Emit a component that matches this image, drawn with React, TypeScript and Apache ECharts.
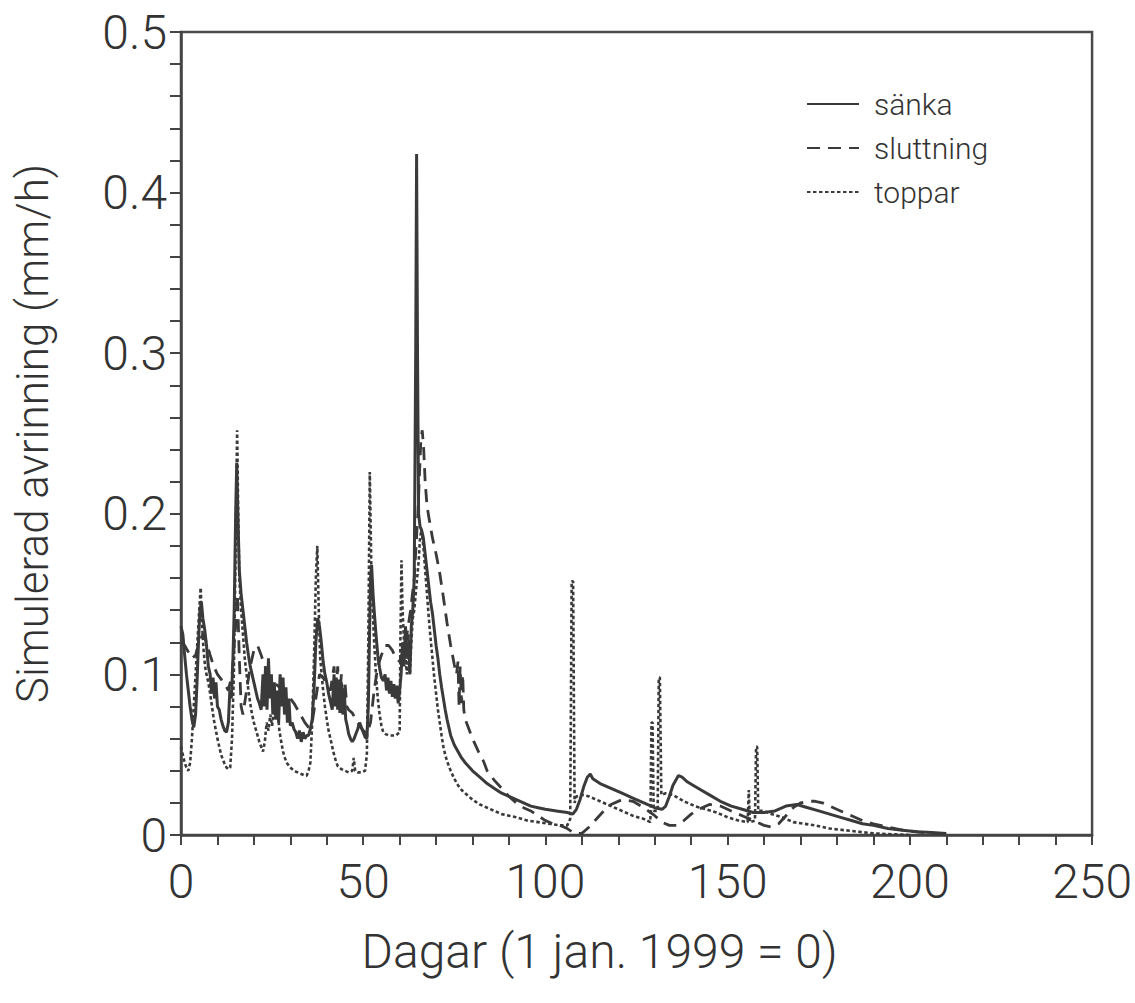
import React, { useEffect, useRef } from "react";
import * as echarts from "echarts";

const seriesNames = ["sänka", "sluttning", "toppar"];
const xAxisTitle = "Dagar (1 jan. 1999 = 0)";
const yAxisTitle = "Simulerad avrinning (mm/h)";

const sankaData: [number, number][] = [
  [0, 0.13], [0.5, 0.125], [1, 0.112], [1.5, 0.1], [2, 0.09], [2.5, 0.08], [3, 0.072], [3.5, 0.067],
  [4, 0.075], [4.4, 0.095], [4.8, 0.12], [5.2, 0.14], [5.6, 0.145], [6, 0.135], [6.5, 0.128], [7, 0.118],
  [7.5, 0.105], [8, 0.1], [8.4, 0.088], [8.8, 0.098], [9.2, 0.085], [9.6, 0.095], [10, 0.08], [10.5, 0.078],
  [11, 0.072], [11.5, 0.068], [12, 0.065], [12.5, 0.064], [13, 0.07], [13.4, 0.09], [13.8, 0.085], [14.2, 0.105],
  [14.6, 0.14], [15, 0.2], [15.3, 0.232], [15.6, 0.2], [16, 0.165], [16.5, 0.15], [17, 0.14], [17.5, 0.13],
  [18, 0.12], [18.5, 0.112], [19, 0.105], [19.5, 0.1], [20, 0.095], [20.5, 0.09], [21, 0.085], [21.5, 0.082],
  [22, 0.078], [22.5, 0.1], [22.8, 0.08], [23.2, 0.105], [23.6, 0.078], [24, 0.11], [24.4, 0.085], [24.8, 0.1],
  [25.2, 0.075], [25.6, 0.095], [26, 0.072], [26.4, 0.09], [26.8, 0.07], [27.2, 0.1], [27.6, 0.08], [28, 0.098],
  [28.4, 0.075], [28.8, 0.092], [29.2, 0.07], [29.6, 0.085], [30, 0.068], [30.5, 0.07], [31, 0.066], [31.5, 0.064],
  [32, 0.06], [32.5, 0.065], [33, 0.058], [33.5, 0.064], [34, 0.06], [34.5, 0.062], [35, 0.062], [35.5, 0.066],
  [36, 0.072], [36.5, 0.09], [37, 0.12], [37.5, 0.135], [38, 0.13], [38.5, 0.12], [39, 0.108], [39.5, 0.1],
  [40, 0.095], [40.5, 0.088], [41, 0.083], [41.5, 0.078], [42, 0.1], [42.3, 0.08], [42.6, 0.098], [43, 0.078],
  [43.3, 0.096], [43.6, 0.076], [44, 0.095], [44.4, 0.075], [44.8, 0.09], [45.2, 0.072], [45.6, 0.068], [46, 0.063],
  [46.5, 0.06], [47, 0.058], [47.5, 0.06], [48, 0.063], [48.5, 0.066], [49, 0.07], [49.5, 0.067], [50, 0.064],
  [50.5, 0.061], [51, 0.06], [51.4, 0.08], [51.7, 0.12], [52, 0.16], [52.3, 0.168], [52.7, 0.15], [53, 0.14],
  [53.5, 0.125], [54, 0.112], [54.5, 0.104], [55, 0.098], [55.5, 0.096], [56, 0.1], [56.4, 0.09], [56.8, 0.098],
  [57.2, 0.088], [57.6, 0.096], [58, 0.086], [58.4, 0.094], [58.8, 0.085], [59.2, 0.093], [59.6, 0.082], [60, 0.09],
  [60.4, 0.1], [60.8, 0.12], [61.2, 0.105], [61.6, 0.13], [62, 0.11], [62.4, 0.12], [62.8, 0.1], [63.2, 0.13],
  [63.6, 0.14], [64, 0.16], [64.4, 0.3], [64.65, 0.424], [64.9, 0.3], [65.2, 0.2], [65.6, 0.192], [66, 0.19],
  [66.5, 0.185], [67, 0.175], [67.5, 0.165], [68, 0.155], [68.5, 0.145], [69, 0.138], [69.5, 0.128], [70, 0.118],
  [70.5, 0.11], [71, 0.1], [71.5, 0.092], [72, 0.085], [72.5, 0.078], [73, 0.072], [73.5, 0.067], [74, 0.062],
  [75, 0.056], [76, 0.052], [77, 0.048], [78, 0.045], [80, 0.04], [82, 0.036], [84, 0.032], [86, 0.029],
  [88, 0.026], [90, 0.024], [92, 0.022], [94, 0.02], [96, 0.018], [98, 0.017], [100, 0.016], [103, 0.015],
  [106, 0.014], [107.5, 0.013], [108.5, 0.016], [109.5, 0.022], [110.5, 0.03], [111.5, 0.036], [112.3, 0.038], [113, 0.035],
  [115, 0.032], [118, 0.029], [121, 0.026], [124, 0.023], [127, 0.02], [130, 0.017], [132, 0.016], [133, 0.018],
  [134, 0.024], [135, 0.031], [136.5, 0.037], [137.5, 0.036], [139, 0.033], [142, 0.029], [145, 0.025], [148, 0.021],
  [151, 0.018], [154, 0.016], [157, 0.014], [160, 0.014], [163, 0.015], [166, 0.018], [169, 0.019], [172, 0.017],
  [175, 0.015], [178, 0.013], [181, 0.011], [184, 0.009], [187, 0.007], [190, 0.006], [194, 0.004], [198, 0.003],
  [202, 0.002], [206, 0.0015], [210, 0.001],
];

const sluttningData: [number, number][] = [
  [0, 0.12], [1, 0.118], [2, 0.114], [3, 0.11], [4, 0.112], [5, 0.12], [6, 0.125], [7, 0.12],
  [8, 0.112], [9, 0.105], [10, 0.1], [11, 0.097], [12, 0.094], [13, 0.09], [14, 0.1], [15, 0.13],
  [15.5, 0.15], [16, 0.11], [16.5, 0.08], [17, 0.075], [18, 0.09], [19, 0.105], [20, 0.115], [21, 0.118],
  [22, 0.112], [23, 0.105], [24, 0.1], [25, 0.097], [26, 0.094], [27, 0.092], [28, 0.09], [29, 0.088],
  [30, 0.085], [31, 0.082], [32, 0.078], [33, 0.074], [34, 0.07], [35, 0.067], [36, 0.07], [37, 0.085],
  [38, 0.1], [39, 0.098], [40, 0.094], [41, 0.09], [42, 0.105], [42.5, 0.085], [43, 0.105], [43.5, 0.082],
  [44, 0.1], [44.5, 0.082], [45, 0.095], [45.5, 0.08], [46, 0.078], [47, 0.076], [48, 0.072], [49, 0.068],
  [50, 0.065], [51, 0.063], [52, 0.07], [53, 0.09], [54, 0.105], [55, 0.112], [56, 0.118], [57, 0.118],
  [58, 0.115], [59, 0.11], [60, 0.108], [61, 0.115], [62, 0.125], [63, 0.14], [64, 0.16], [65, 0.2],
  [65.8, 0.245], [66.2, 0.252], [66.6, 0.24], [67, 0.22], [67.5, 0.205], [68, 0.198], [69, 0.185], [70, 0.175],
  [71, 0.163], [72, 0.148], [73, 0.132], [74, 0.118], [75, 0.106], [75.6, 0.1], [76, 0.108], [76.3, 0.08],
  [76.6, 0.105], [77, 0.082], [77.3, 0.1], [77.6, 0.078], [78, 0.072], [79, 0.066], [80, 0.06], [81, 0.055],
  [82, 0.05], [83, 0.046], [84, 0.04], [85, 0.037], [86, 0.034], [88, 0.029], [90, 0.024], [92, 0.02],
  [94, 0.017], [96, 0.015], [98, 0.012], [100, 0.009], [102, 0.007], [104, 0.006], [106, 0.004], [108, 0.001],
  [110, 0.001], [112, 0.005], [114, 0.01], [116, 0.015], [118, 0.019], [121, 0.022], [124, 0.021], [127, 0.017],
  [130, 0.012], [132, 0.008], [134, 0.006], [136, 0.006], [138, 0.009], [140, 0.013], [142, 0.016], [145, 0.019],
  [148, 0.018], [151, 0.015], [154, 0.012], [157, 0.009], [160, 0.006], [162, 0.005], [164, 0.007], [166, 0.012],
  [168, 0.017], [170, 0.02], [172, 0.021], [174, 0.021], [176, 0.02], [178, 0.018], [181, 0.015], [184, 0.012],
  [187, 0.009], [190, 0.007], [194, 0.005], [198, 0.003], [202, 0.002], [206, 0.001], [210, 0.0005],
];

const topparData: [number, number][] = [
  [0, 0.055], [0.5, 0.05], [1, 0.045], [1.5, 0.042], [2, 0.04], [2.5, 0.045], [3, 0.06], [3.5, 0.08],
  [4, 0.1], [4.5, 0.12], [5, 0.14], [5.4, 0.154], [5.8, 0.13], [6.2, 0.115], [6.6, 0.105], [7, 0.1],
  [7.5, 0.095], [8, 0.088], [8.5, 0.08], [9, 0.072], [9.5, 0.066], [10, 0.06], [10.5, 0.055], [11, 0.05],
  [11.5, 0.047], [12, 0.044], [12.5, 0.042], [13, 0.041], [13.5, 0.042], [14, 0.06], [14.5, 0.1], [15, 0.18],
  [15.4, 0.252], [15.7, 0.2], [16, 0.16], [16.5, 0.14], [17, 0.125], [17.5, 0.11], [18, 0.1], [18.5, 0.09],
  [19, 0.082], [19.5, 0.075], [20, 0.07], [20.5, 0.066], [21, 0.062], [21.5, 0.058], [22, 0.055], [22.5, 0.052],
  [23, 0.058], [23.5, 0.07], [24, 0.065], [24.5, 0.075], [25, 0.068], [25.5, 0.078], [26, 0.072], [26.5, 0.078],
  [27, 0.065], [27.5, 0.058], [28, 0.052], [28.5, 0.048], [29, 0.045], [30, 0.042], [31, 0.04], [32, 0.039],
  [33, 0.038], [34, 0.037], [34.5, 0.037], [35, 0.04], [35.5, 0.045], [36, 0.07], [36.5, 0.11], [37, 0.16],
  [37.4, 0.18], [37.8, 0.14], [38.2, 0.11], [38.6, 0.1], [39, 0.09], [39.5, 0.08], [40, 0.072], [40.5, 0.065],
  [41, 0.06], [41.5, 0.055], [42, 0.05], [42.5, 0.046], [43, 0.043], [44, 0.041], [45, 0.04], [46, 0.039],
  [47, 0.04], [47.4, 0.048], [47.8, 0.04], [48.5, 0.039], [49.5, 0.039], [50.5, 0.04], [51, 0.05], [51.4, 0.12],
  [51.8, 0.226], [52.2, 0.17], [52.6, 0.14], [53, 0.12], [53.5, 0.1], [54, 0.085], [54.5, 0.075], [55, 0.068],
  [55.5, 0.064], [56, 0.063], [57, 0.062], [58, 0.062], [59, 0.062], [60, 0.064], [60.2, 0.12], [60.5, 0.171],
  [60.8, 0.14], [61.2, 0.12], [61.6, 0.11], [62, 0.1], [62.4, 0.125], [62.8, 0.1], [63.2, 0.12], [63.6, 0.135],
  [64, 0.14], [64.4, 0.15], [64.8, 0.16], [65.2, 0.17], [65.6, 0.185], [66, 0.19], [66.5, 0.18], [67, 0.165],
  [67.5, 0.15], [68, 0.135], [68.5, 0.122], [69, 0.11], [69.5, 0.098], [70, 0.088], [70.5, 0.078], [71, 0.07],
  [71.5, 0.062], [72, 0.055], [72.5, 0.05], [73, 0.046], [74, 0.04], [75, 0.035], [76, 0.031], [77, 0.028],
  [78, 0.026], [80, 0.022], [82, 0.019], [84, 0.017], [86, 0.015], [88, 0.013], [90, 0.012], [92, 0.011],
  [95, 0.009], [98, 0.008], [101, 0.007], [104, 0.006], [106, 0.006], [106.8, 0.01], [107.2, 0.158], [107.6, 0.158],
  [108, 0.02], [108.5, 0.024], [110, 0.025], [112, 0.024], [115, 0.021], [118, 0.018], [121, 0.015], [124, 0.012],
  [127, 0.01], [128.8, 0.008], [129.1, 0.07], [129.4, 0.07], [129.7, 0.015], [130.8, 0.015], [131.1, 0.098], [131.4, 0.098],
  [131.8, 0.025], [133, 0.026], [135, 0.025], [138, 0.021], [141, 0.018], [144, 0.016], [147, 0.014], [150, 0.011],
  [153, 0.009], [155.5, 0.008], [155.8, 0.028], [156.1, 0.008], [157.5, 0.009], [157.8, 0.055], [158.1, 0.055], [158.4, 0.015],
  [160, 0.015], [162, 0.013], [165, 0.011], [168, 0.008], [171, 0.007], [174, 0.006], [178, 0.004], [182, 0.003],
  [186, 0.002], [190, 0.001], [195, 0.0005], [200, 0],
];

const FONT = "Roboto, 'Liberation Sans', sans-serif";
const INK = "#3a3a3a";

export default function App() {
  const ref = useRef<HTMLDivElement>(null);
  useEffect(() => {
    if (!ref.current) return;
    const chart = echarts.init(ref.current, null, { renderer: "svg" });
    const lineTypes: any[] = ["solid", [13, 8], [3.5, 2.5]];
    const lineWidths = [3, 2.8, 2.6];
    const datasets = [sankaData, sluttningData, topparData];
    chart.setOption({
      animation: false,
      backgroundColor: "#ffffff",
      grid: {
        left: 181,
        top: 32,
        right: 38,
        bottom: 168,
        show: true,
        borderColor: "#4a4a4a",
        borderWidth: 2.5,
        containLabel: false,
      },
      legend: {
        show: true,
        orient: "vertical",
        left: 801,
        top: 83,
        itemWidth: 52,
        itemHeight: 14,
        itemGap: 12,
        data: seriesNames,
        itemStyle: { opacity: 0, borderWidth: 0 },
        textStyle: {
          fontFamily: FONT,
          fontWeight: 300,
          fontSize: 30,
          color: "#333",
          lineHeight: 32,
          padding: [0, 0, 0, 10],
        },
      },
      xAxis: {
        type: "value",
        min: 0,
        max: 250,
        interval: 50,
        name: xAxisTitle,
        nameLocation: "middle",
        nameGap: 92,
        nameTextStyle: {
          fontFamily: FONT,
          fontWeight: 300,
          fontSize: 48,
          color: "#333",
          padding: [0, 74, 0, 0],
        },
        axisLine: { show: true, lineStyle: { color: "#444", width: 2.5 } },
        axisTick: { show: true, inside: false, length: 10, lineStyle: { color: "#444", width: 2 } },
        minorTick: { show: true, splitNumber: 5, length: 10, lineStyle: { color: "#444", width: 2 } },
        splitLine: { show: false },
        minorSplitLine: { show: false },
        axisLabel: {
          margin: 22,
          fontFamily: FONT,
          fontWeight: 300,
          fontSize: 48,
          color: "#333",
          formatter: (v: number) => String(v),
        },
      },
      yAxis: {
        type: "value",
        min: 0,
        max: 0.5,
        interval: 0.1,
        name: yAxisTitle,
        nameLocation: "middle",
        nameGap: 126,
        nameRotate: 90,
        nameTextStyle: {
          fontFamily: FONT,
          fontWeight: 300,
          fontSize: 44,
          color: "#333",
        },
        axisLine: { show: true, lineStyle: { color: "#444", width: 2.5 } },
        axisTick: { show: true, inside: false, length: 11, lineStyle: { color: "#444", width: 2 } },
        minorTick: { show: true, splitNumber: 5, length: 11, lineStyle: { color: "#444", width: 2 } },
        splitLine: { show: false },
        minorSplitLine: { show: false },
        axisLabel: {
          margin: 14,
          fontFamily: FONT,
          fontWeight: 300,
          fontSize: 48,
          color: "#333",
          formatter: (v: number) => (v === 0 ? "0" : v.toFixed(1)),
        },
      },
      series: seriesNames.map((name, i) => ({
        name,
        type: "line",
        data: datasets[i],
        showSymbol: false,
        symbol: "none",
        clip: true,
        z: 3 - i,
        lineStyle: { color: INK, width: lineWidths[i], type: lineTypes[i] },
        itemStyle: { color: INK },
      })),
    });
    return () => chart.dispose();
  }, []);
  return (
    <div
      ref={ref}
      style={{ position: "fixed", left: 0, top: 0, width: 1135, height: 1003, background: "#fff" }}
    />
  );
}
